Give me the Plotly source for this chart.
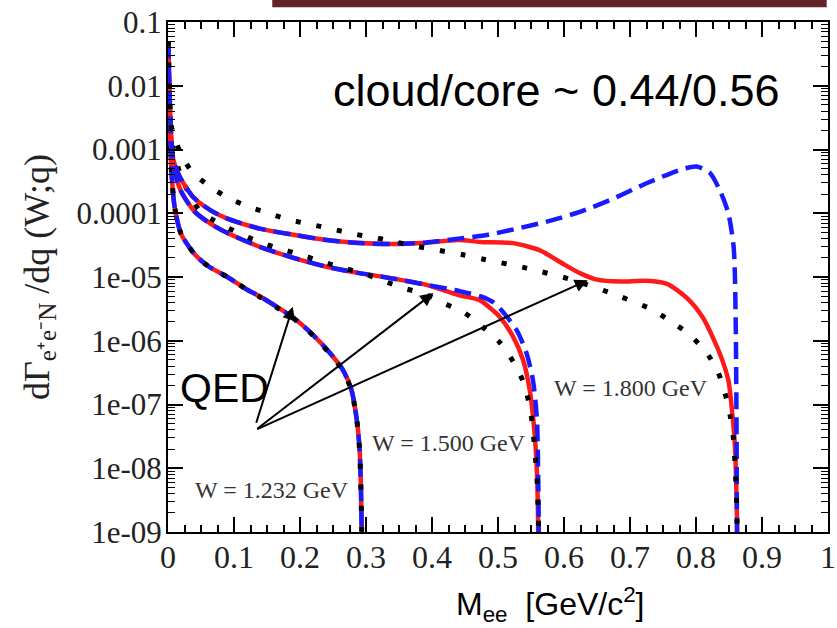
import math
import plotly.graph_objects as go

# ---------------- data ----------------
# W = 1.232 GeV : full model (red = blue, identical)
x_1232 = [0.0005, 0.002, 0.005, 0.01, 0.02, 0.04, 0.06, 0.09, 0.12, 0.14, 0.165, 0.19,
          0.22, 0.245, 0.265, 0.278, 0.286, 0.290, 0.292, 0.2935, 0.294]
y_1232 = [5.0e-2, 5.0e-3, 5.0e-4, 1.26e-4, 4.7e-5, 2.3e-5, 1.5e-5, 1.0e-5, 6.3e-6, 4.9e-6,
          3.4e-6, 2.3e-6, 1.23e-6, 6.5e-7, 3.5e-7, 1.7e-7, 5.8e-8, 2.2e-8, 6.6e-9, 1.0e-9, 1e-10]
# W = 1.232 GeV : QED
x_1232_qed = [0.0005, 0.002, 0.005, 0.01, 0.02, 0.04, 0.06, 0.09, 0.12, 0.14, 0.165, 0.19,
              0.22, 0.245, 0.265, 0.278, 0.286, 0.290, 0.292, 0.2935, 0.294]
y_1232_qed = [5.0e-2, 5.0e-3, 5.0e-4, 1.26e-4, 4.7e-5, 2.3e-5, 1.5e-5, 1.0e-5, 6.3e-6, 4.8e-6,
              3.3e-6, 2.25e-6, 1.2e-6, 6.3e-7, 3.4e-7, 1.65e-7, 5.6e-8, 2.1e-8, 6.4e-9, 1.0e-9, 1e-10]

# W = 1.500 GeV
x_1500_red = [0.0005, 0.002, 0.005, 0.01, 0.02, 0.04, 0.065, 0.09, 0.14, 0.19, 0.24, 0.29, 0.34,
              0.39, 0.44, 0.473, 0.493, 0.503, 0.523, 0.538, 0.548, 0.555, 0.559, 0.561, 0.5615]
y_1500_red = [5.0e-2, 6.3e-3, 1.26e-3, 4.5e-4, 2.2e-4, 1.07e-4, 6.8e-5, 4.9e-5, 2.95e-5, 2.0e-5,
              1.45e-5, 1.15e-5, 9.5e-6, 7.6e-6, 5.2e-6, 4.3e-6, 2.95e-6, 2.35e-6, 1.15e-6, 5.0e-7,
              1.7e-7, 4.0e-8, 8.5e-9, 1.0e-9, 1e-10]
x_1500_blue = [0.0005, 0.002, 0.005, 0.01, 0.02, 0.04, 0.065, 0.09, 0.14, 0.19, 0.24, 0.29, 0.34,
               0.39, 0.442, 0.473, 0.493, 0.503, 0.528, 0.543, 0.553, 0.559, 0.561, 0.5618, 0.562]
y_1500_blue = [5.0e-2, 6.3e-3, 1.26e-3, 4.5e-4, 2.2e-4, 1.07e-4, 6.8e-5, 4.9e-5, 2.95e-5, 2.0e-5,
               1.45e-5, 1.15e-5, 9.5e-6, 7.6e-6, 6.0e-6, 5.0e-6, 4.0e-6, 3.2e-6, 1.48e-6, 6.5e-7,
               2.4e-7, 5.8e-8, 6.6e-9, 1.0e-9, 1e-10]
x_1500_qed = [0.0005, 0.002, 0.006, 0.021, 0.048, 0.078, 0.107, 0.138, 0.169, 0.2, 0.233, 0.263,
              0.295, 0.326, 0.359, 0.389, 0.42, 0.45, 0.478, 0.503, 0.523, 0.538, 0.548, 0.553,
              0.556, 0.559, 0.5615, 0.562]
y_1500_qed = [5.0e-2, 6.3e-3, 1.26e-3, 3.5e-4, 1.1e-4, 6.9e-5, 4.9e-5, 3.55e-5, 2.8e-5, 2.25e-5,
              1.75e-5, 1.4e-5, 1.15e-5, 8.7e-6, 6.6e-6, 5.4e-6, 3.8e-6, 2.7e-6, 1.6e-6, 9.3e-7,
              4.7e-7, 2.3e-7, 9.5e-8, 4.0e-8, 1.75e-8, 7.1e-9, 1.2e-9, 1e-10]

# W = 1.800 GeV
x_1800_red = [0.0005, 0.002, 0.005, 0.008, 0.018, 0.038, 0.064, 0.089, 0.139, 0.19, 0.24, 0.29,
              0.34, 0.39, 0.44, 0.473, 0.523, 0.564, 0.599, 0.624, 0.65, 0.685, 0.725, 0.756,
              0.786, 0.811, 0.836, 0.849, 0.855, 0.859, 0.861, 0.8625, 0.863]
y_1800_red = [5.0e-2, 1.0e-2, 1.6e-3, 6.9e-4, 3.7e-4, 1.8e-4, 1.12e-4, 8.3e-5, 5.75e-5, 4.6e-5,
              3.8e-5, 3.4e-5, 3.3e-5, 3.45e-5, 3.8e-5, 3.55e-5, 3.4e-5, 2.6e-5, 1.6e-5, 1.15e-5,
              9.1e-6, 8.5e-6, 8.7e-6, 7.8e-6, 4.7e-6, 2.25e-6, 6.3e-7, 2.4e-7, 7.2e-8, 2.2e-8,
              5.1e-9, 1.0e-9, 1e-10]
x_1800_blue = [0.0005, 0.002, 0.005, 0.008, 0.018, 0.038, 0.064, 0.089, 0.139, 0.19, 0.24, 0.29,
               0.34, 0.39, 0.44, 0.485, 0.524, 0.574, 0.624, 0.675, 0.725, 0.776, 0.801, 0.821,
               0.836, 0.849, 0.857, 0.859, 0.8605, 0.8615, 0.862, 0.8622]
y_1800_blue = [5.0e-2, 1.0e-2, 1.6e-3, 6.9e-4, 3.7e-4, 1.8e-4, 1.12e-4, 8.3e-5, 5.75e-5, 4.6e-5,
               3.8e-5, 3.4e-5, 3.3e-5, 3.45e-5, 4.0e-5, 4.6e-5, 5.6e-5, 7.4e-5, 1.05e-4, 1.7e-4,
               2.95e-4, 4.8e-4, 5.4e-4, 4.3e-4, 2.3e-4, 1.0e-4, 3.0e-5, 1.0e-5, 1.0e-6, 3.2e-8,
               1.0e-9, 1e-10]
x_1800_qed = [0.0005, 0.002, 0.0056, 0.018, 0.036, 0.064, 0.091, 0.123, 0.155, 0.186, 0.219, 0.25,
              0.283, 0.316, 0.347, 0.379, 0.412, 0.445, 0.478, 0.543, 0.608, 0.671, 0.733, 0.762,
              0.788, 0.814, 0.832, 0.844, 0.852, 0.857, 0.859, 0.862, 0.8625]
y_1800_qed = [5.0e-2, 1.0e-2, 2.2e-3, 9.3e-4, 4.5e-4, 2.6e-4, 1.74e-4, 1.26e-4, 9.8e-5, 7.8e-5,
              6.6e-5, 5.6e-5, 4.7e-5, 4.1e-5, 3.5e-5, 3.0e-5, 2.6e-5, 2.25e-5, 1.9e-5, 1.38e-5,
              9.3e-6, 5.6e-6, 3.1e-6, 2.0e-6, 1.3e-6, 6.9e-7, 3.5e-7, 1.5e-7, 6.5e-8, 2.75e-8,
              1.2e-8, 2.0e-9, 1e-10]

x_tick_vals = [0, 0.1, 0.2, 0.3, 0.4, 0.5, 0.6, 0.7, 0.8, 0.9, 1.0]
x_tick_text = ["0", "0.1", "0.2", "0.3", "0.4", "0.5", "0.6", "0.7", "0.8", "0.9", "1"]
y_tick_vals = [1e-9, 1e-8, 1e-7, 1e-6, 1e-5, 1e-4, 1e-3, 1e-2, 1e-1]
y_tick_text = ["1e-09", "1e-08", "1e-07", "1e-06", "1e-05", "0.0001", "0.001", "0.01", "0.1"]
y_minor_mult = [2, 3, 4, 5, 6, 7, 8, 9]

w_labels = ["W = 1.232 GeV", "W = 1.500 GeV", "W = 1.800 GeV"]
w_label_pos = [(0.158, 4.6e-9), (0.426, 2.5e-8), (0.702, 1.8e-7)]
qed_arrow_tips = [(0.189, 3.4e-6), (0.402, 5.6e-6), (0.636, 8.9e-6)]
qed_arrow_tails = [(0.133, 4.9e-8), (0.133, 4.0e-8), (0.133, 4.0e-8)]

# ---------------- figure ----------------
RED = "#ff1a1a"
BLUE = "#1a1aff"
fig = go.Figure()

series = [
    (x_1232, y_1232, x_1232, y_1232, x_1232_qed, y_1232_qed),
    (x_1500_red, y_1500_red, x_1500_blue, y_1500_blue, x_1500_qed, y_1500_qed),
    (x_1800_red, y_1800_red, x_1800_blue, y_1800_blue, x_1800_qed, y_1800_qed),
]
for xr, yr, xb, yb, xq, yq in series:
    fig.add_trace(go.Scatter(x=xr, y=yr, mode="lines", line_shape="spline",
                             line=dict(color=RED, width=4.5, smoothing=0.7), showlegend=False))
    fig.add_trace(go.Scatter(x=xb, y=yb, mode="lines", line_shape="spline",
                             line=dict(color=BLUE, width=4.5, dash="17px,8px", smoothing=0.7),
                             showlegend=False))
    fig.add_trace(go.Scatter(x=xq, y=yq, mode="lines", line_shape="spline",
                             line=dict(color="black", width=5, dash="5px,16px", smoothing=0.7),
                             showlegend=False))

annotations = []
for txt, (xv, yv) in zip(w_labels, w_label_pos):
    annotations.append(dict(x=xv, y=math.log10(yv), xref="x", yref="y", text=txt,
                            showarrow=False, xanchor="center", yanchor="middle",
                            font=dict(family="Liberation Serif", size=24, color="#333333")))
for (tx, ty), (sx, sy) in zip(qed_arrow_tips, qed_arrow_tails):
    annotations.append(dict(x=tx, y=math.log10(ty), ax=sx, ay=math.log10(sy),
                            xref="x", yref="y", axref="x", ayref="y", text="",
                            showarrow=True, arrowhead=2, arrowsize=1.3, arrowwidth=2,
                            arrowcolor="black", standoff=0, startstandoff=0))
annotations.append(dict(x=0.085, y=math.log10(1.8e-7), xref="x", yref="y", text="QED",
                        showarrow=False, xanchor="center", yanchor="middle",
                        font=dict(family="Liberation Sans", size=41, color="black")))
annotations.append(dict(x=0.589, y=math.log10(8.5e-3), xref="x", yref="y",
                        text="cloud/core ~ 0.44/0.56",
                        showarrow=False, xanchor="center", yanchor="middle",
                        font=dict(family="Liberation Sans", size=45, color="black")))
annotations.append(dict(x=0.579, y=-0.142, xref="paper", yref="paper",
                        text="M<sub>ee</sub>  [GeV/c<sup>2</sup>]",
                        showarrow=False, xanchor="center", yanchor="middle",
                        font=dict(family="Liberation Sans", size=32, color="black")))

fig.update_layout(
    width=837, height=628,
    margin=dict(l=168, r=9, t=22, b=96, autoexpand=False),
    paper_bgcolor="white", plot_bgcolor="white",
    annotations=annotations,
    shapes=[dict(type="rect", xref="paper", yref="paper", x0=0.158, x1=0.998,
                 y0=1.029, y1=1.045, fillcolor="#622426", line=dict(width=0))],
)
fig.update_xaxes(
    range=[0, 1], tickmode="array", tickvals=x_tick_vals, ticktext=x_tick_text,
    ticks="inside", ticklen=15, tickwidth=1.5, tickcolor="black", automargin=False,
    showline=True, linecolor="black", linewidth=2, mirror="allticks",
    minor=dict(ticks="inside", ticklen=7, tickwidth=1.5, tickcolor="black", dtick=0.025,
               tick0=0, showgrid=False),
    showgrid=False, zeroline=False, ticklabelstandoff=-4,
    tickfont=dict(family="Liberation Serif", size=32, color="#222222"),
)
fig.update_yaxes(
    type="log", range=[-9, -1], tickmode="array", tickvals=y_tick_vals, ticktext=y_tick_text,
    ticks="inside", ticklen=15, tickwidth=1.5, tickcolor="black", automargin=False,
    showline=True, linecolor="black", linewidth=2, mirror="allticks",
    minor=dict(ticks="inside", ticklen=7, tickwidth=1.2, tickcolor="black", tickmode="array",
               tickvals=[m * d for d in y_tick_vals[:-1] for m in y_minor_mult], showgrid=False),
    showgrid=False, zeroline=False, ticklabelstandoff=-2,
    tickfont=dict(family="Liberation Serif", size=31, color="#222222"),
    title=dict(text="dΓ<sub>e⁺e⁻N</sub> /dq (W;q)", standoff=16,
               font=dict(family="Liberation Serif", size=36, color="#222222")),
)

fig.write_html("out.html", config={"displayModeBar": False},
               post_script="document.body.style.margin='0px';document.body.style.overflow='hidden';")
